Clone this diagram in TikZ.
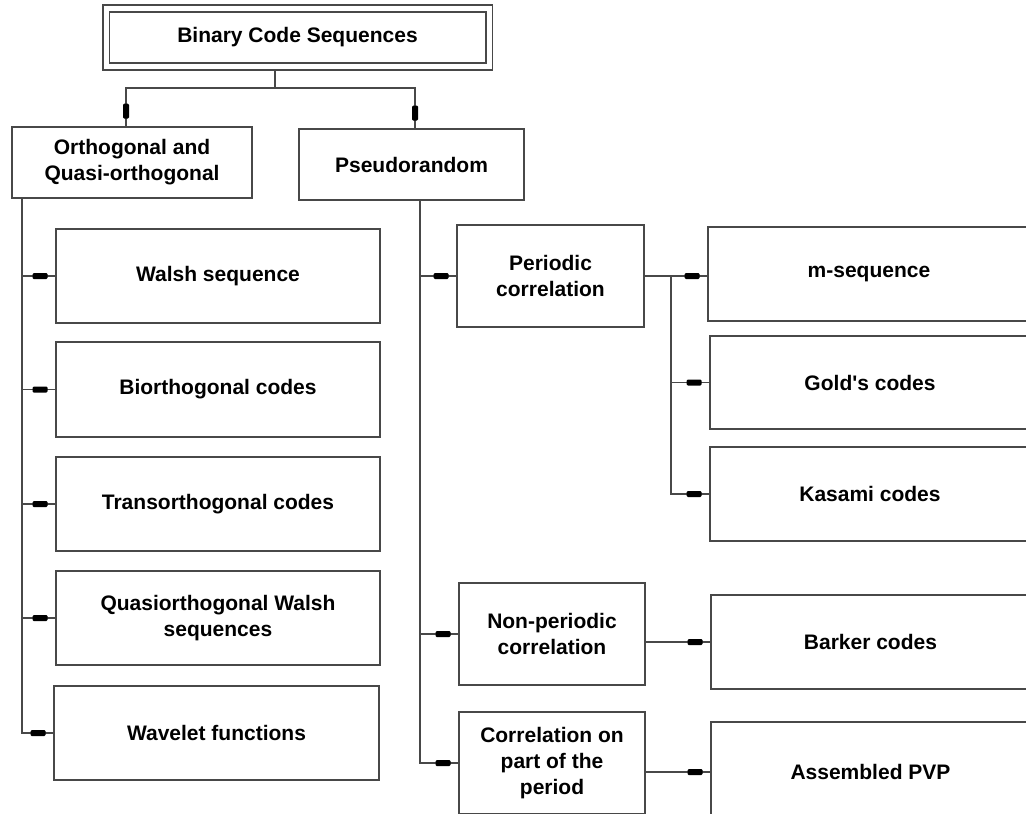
\documentclass[tikz,border=0pt]{standalone}
\usepackage{fontspec}
\setmainfont{Liberation Sans}
\usetikzlibrary{decorations.markings}
\definecolor{edgegray}{HTML}{484848}

\begin{document}
\begin{tikzpicture}[x=1pt,y=-1pt,
    box/.style={draw=edgegray,line width=1.9pt,rectangle,align=center,
      font=\fontsize{21}{26}\selectfont\bfseries,inner sep=0pt},
    link/.style={draw=edgegray,line width=1.9pt},
    feed/.style={postaction={decorate,decoration={markings,
      mark=at position -15pt with {\fill[black,rounded corners=1.2pt] (-7.5pt,-3pt) rectangle (7.5pt,3pt);}}}}]
    \clip (0,0) rectangle (1026,814);
    % root and the two families
    \node[box,double=white,double distance=5pt,outer sep=4.5pt,minimum width=383pt,minimum height=58pt] (top) at (297.5,37.5) {Binary Code Sequences};
    \node[box,minimum width=240pt,minimum height=71pt] (orth) at (132,162.5) {Orthogonal and\\Quasi-orthogonal};
    \node[box,minimum width=225pt,minimum height=71pt] (pseudo) at (411.5,164.5) {Pseudorandom};
    % orthogonal column
    \node[box,minimum width=324pt,minimum height=94pt] (walsh) at (218,276) {Walsh sequence};
    \node[box,minimum width=324pt,minimum height=95pt] (bio) at (218,389.5) {Biorthogonal codes};
    \node[box,minimum width=324pt,minimum height=94pt] (trans) at (218,504) {Transorthogonal codes};
    \node[box,minimum width=324pt,minimum height=94pt] (quasi) at (218,618) {Quasiorthogonal Walsh\\sequences};
    \node[box,minimum width=325pt,minimum height=94pt] (wave) at (216.5,733) {Wavelet functions};
    % pseudorandom column
    \node[box,minimum width=187pt,minimum height=102pt] (per) at (550.5,276) {Periodic\\correlation};
    \node[box,minimum width=186pt,minimum height=102pt] (nonper) at (552,634) {Non-periodic\\correlation};
    \node[box,minimum width=186pt,minimum height=102pt] (corr) at (552,763) {Correlation on\\part of the\\period};
    \node[box,minimum width=322pt,minimum height=94pt] (mseq) at (869,274) {m-sequence};
    \node[box,minimum width=320pt,minimum height=93pt] (gold) at (870,382.5) {Gold\textquotesingle s codes};
    \node[box,minimum width=320pt,minimum height=94pt] (kasami) at (870,494) {Kasami codes};
    \node[box,minimum width=319pt,minimum height=94pt] (barker) at (870.5,642) {Barker codes};
    \node[box,minimum width=319pt,minimum height=100pt] (pvp) at (870.5,772) {Assembled PVP};
    % branch points
    \coordinate (fork) at (275,88);
    \coordinate (lt) at (22,0);
    \coordinate (rt) at (420,0);
    \coordinate (rb) at (671,0);
    \draw[link] (top.south -| fork) -- (fork);
    \draw[link,feed] (fork) -| ([xshift=-6pt]orth.north);
    \draw[link,feed] (fork) -| ([xshift=3.5pt]pseudo.north);
    \draw[link,feed] (orth.south -| lt) |- (walsh.west);
    \draw[link,feed] (orth.south -| lt) |- (bio.west);
    \draw[link,feed] (orth.south -| lt) |- (trans.west);
    \draw[link,feed] (orth.south -| lt) |- (quasi.west);
    \draw[link,feed] (orth.south -| lt) |- (wave.west);
    \draw[link,feed] (pseudo.south -| rt) |- (per.west);
    \draw[link,feed] (pseudo.south -| rt) |- (nonper.west);
    \draw[link,feed] (pseudo.south -| rt) |- (corr.west);
    \draw[link,feed] (per.east) -- (per.east -| mseq.west);
    \draw[link,feed] (per.east -| rb) |- (gold.west);
    \draw[link,feed] (per.east -| rb) |- (kasami.west);
    \draw[link,feed] (nonper.east |- barker.west) -- (barker.west);
    \draw[link,feed] (corr.east |- pvp.west) -- (pvp.west);
\end{tikzpicture}
\end{document}
